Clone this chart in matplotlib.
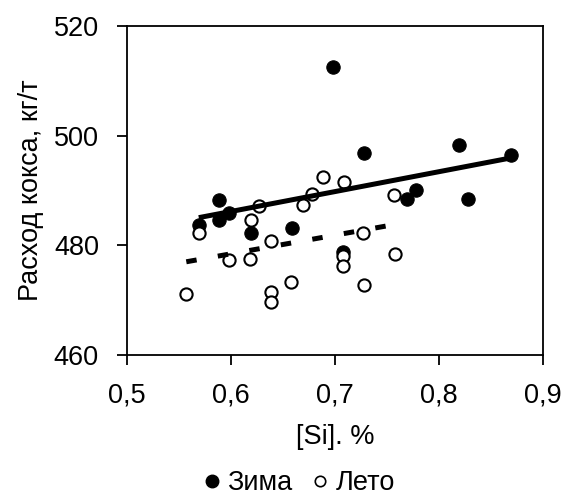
import numpy as np
import matplotlib
matplotlib.use("Agg")
import matplotlib.pyplot as plt
from matplotlib.lines import Line2D

plt.rcParams['font.family'] = ['Liberation Sans', 'DejaVu Sans']

# Winter (Зима) observations: silicon content, % vs coke rate, kg/t
si_winter = [0.698, 0.728, 0.819, 0.869, 0.778, 0.769, 0.828, 0.708,
             0.588, 0.569, 0.588, 0.598, 0.619, 0.659]
coke_winter = [512.5, 496.9, 498.3, 496.4, 490.1, 488.4, 488.5, 478.8,
               488.3, 483.7, 484.6, 485.9, 482.3, 483.2]

# Summer (Лето) observations
si_summer = [0.569, 0.627, 0.619, 0.688, 0.678, 0.669, 0.638, 0.598,
             0.618, 0.557, 0.638, 0.638, 0.658, 0.709, 0.757, 0.727,
             0.708, 0.708, 0.758, 0.728]
coke_summer = [482.2, 487.2, 484.6, 492.5, 489.3, 487.4, 480.7, 477.3,
               477.5, 471.1, 471.5, 469.7, 473.4, 491.5, 489.2, 482.3,
               478.1, 476.3, 478.4, 472.8]

xticks = [0.5, 0.6, 0.7, 0.8, 0.9]
xticklabels = ["0,5", "0,6", "0,7", "0,8", "0,9"]
yticks = [460, 480, 500, 520]
yticklabels = ["460", "480", "500", "520"]

FS = 19.5

fig = plt.figure(figsize=(5.64, 4.95), dpi=100)
ax = fig.add_axes([0.2252, 0.2828, 0.7376, 0.6647])

ax.plot(si_winter, coke_winter, linestyle='none', marker='o', ms=9.6,
        mfc='black', mec='black', mew=0.8, zorder=2)
ax.plot(si_summer, coke_summer, linestyle='none', marker='o', ms=8.8,
        mfc='white', mec='black', mew=1.5, zorder=3)

# Linear trend lines for each season
xw = np.array(si_winter)
kw = np.polyfit(xw, coke_winter, 1)
xr = np.array([xw.min(), xw.max()])
ax.plot(xr, np.polyval(kw, xr), color='black', lw=3.6,
        solid_capstyle='butt', zorder=4)

xs = np.array(si_summer)
ks = np.polyfit(xs, coke_summer, 1)
xr = np.array([xs.min(), xs.max()])
ax.plot(xr, np.polyval(ks, xr), color='black', lw=3.6,
        linestyle=(0, (2.1, 4.3)), dash_capstyle='butt', zorder=4)

ax.set_xlim(0.5, 0.9)
ax.set_ylim(460, 520)
ax.set_xticks(xticks)
ax.set_xticklabels(xticklabels)
ax.set_yticks(yticks)
ax.set_yticklabels(yticklabels)
ax.tick_params(direction='out', length=7.2, width=1.3, labelsize=FS,
               color='black')
ax.tick_params(axis='x', pad=12.5)
ax.tick_params(axis='y', pad=13)
for sp in ax.spines.values():
    sp.set_linewidth(1.3)
    sp.set_color('black')

ax.set_xlabel("[Si]. %", fontsize=FS, labelpad=11)
ax.set_ylabel("Расход кокса, кг/т", fontsize=FS, labelpad=7)

handles = [
    Line2D([], [], linestyle='none', marker='o', ms=9.0, mfc='black',
           mec='black', label='Зима'),
    Line2D([], [], linestyle='none', marker='o', ms=7.5, mfc='white',
           mec='black', mew=1.2, label='Лето'),
]
fig.legend(handles=handles, loc='center', bbox_to_anchor=(0.527, 0.024),
           ncol=2, frameon=False, fontsize=FS, handletextpad=0.1,
           columnspacing=0.6, handlelength=0.9, borderpad=0.1)

fig.savefig("out.png", dpi=100)
